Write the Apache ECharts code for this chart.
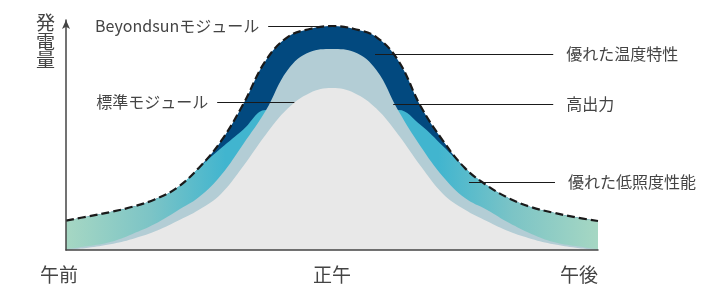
<!DOCTYPE html>
<html>
<head>
<meta charset="utf-8">
<script src="https://cdn.jsdelivr.net/npm/echarts@6/dist/echarts.min.js"></script>
<style>
html,body{margin:0;padding:0;background:#fff;}
#chart{width:709px;height:289px;}
</style>
</head>
<body>
<div id="chart"></div>
<script>
// ---- data ----
const hours = [6,6.5,7,7.5,8,8.5,9,9.5,10,10.5,11,11.5,12,12.5,13,13.5,14,14.5,15,15.5,16,16.5,17,17.5,18];
const beyondsunOutput = [12.8,14.6,16.5,18.8,22.0,27.0,35.8,47.4,63.5,82.2,92.6,96.1,97.4,96.1,92.6,82.2,62.5,47.6,35.6,28.0,22.4,18.6,16.2,14.2,12.6];
const lowLightEdge = [12.8,14.6,16.5,18.8,22.0,27.0,35.8,44.3,52.4,60.9,55,52,51,52,55,60.9,54.3,45.2,35.6,28.0,22.4,18.6,16.2,14.2,12.6];
const highOutputEdge = [0.3,1.7,3.5,7.0,11.3,17.0,23.0,32.6,46.1,60.4,78.3,86.1,87.4,86.1,78.3,60.4,45.0,32.0,22.6,17.4,11.7,7.0,3.5,1.7,0.3];
const standardOutput = [0,1.0,2.5,4.8,8.0,12.5,17.5,24.5,36.5,50.0,61.5,68.3,70.4,68.3,61.5,50.0,36.5,24.5,17.5,12.5,8.0,4.8,2.5,1.0,0];
const xTickValues = [6,12,18];
const xTickLabels = ['午前','正午','午後'];
const yAxisTitle = '発\n電\n量';
const annoLabels = ['Beyondsunモジュール','優れた温度特性','高出力','優れた低照度性能','標準モジュール'];
const annoFromX = [11.80,12.97,13.38,15.09,11.32];
const annoToX = [10.56,16.99,16.99,17.03,9.41];
const annoY = [97.4,85.2,63.5,29.6,64.3];

const FONT = 'Noto Sans CJK JP';
const pair = (a) => hours.map((h, i) => [h, a[i]]);

function areaSeries(data, color, z) {
  return {
    type: 'line', data: pair(data), smooth: 0.4, symbol: 'none', silent: true,
    lineStyle: { width: 0 }, areaStyle: { color: color, opacity: 1 }, z: z
  };
}

const tealGradient = new echarts.graphic.LinearGradient(0, 0, 1, 0, [
  { offset: 0, color: '#a6d7c3' },
  { offset: 0.16, color: '#7cc4c6' },
  { offset: 0.3, color: '#41b5cf' },
  { offset: 0.7, color: '#41b5cf' },
  { offset: 0.84, color: '#7cc4c6' },
  { offset: 1, color: '#a6d7c3' }
]);

const markData = annoLabels.map((name, i) => {
  const leftward = annoToX[i] < annoFromX[i];
  return [
    { name: name, coord: [annoFromX[i], annoY[i]], label: { distance: leftward ? 9 : 13 } },
    { coord: [annoToX[i], annoY[i]] }
  ];
});

const chart = echarts.init(document.getElementById('chart'), null, { renderer: 'canvas' });
chart.setOption({
  animation: false,
  backgroundColor: '#ffffff',
  grid: { left: 66, right: 111, top: 20, bottom: 39 },
  xAxis: {
    type: 'value', min: 6, max: 18, interval: 6, z: 10,
    axisLine: { show: true, lineStyle: { color: '#444', width: 1.5 } },
    axisTick: { show: false }, splitLine: { show: false },
    axisLabel: {
      margin: 15, color: '#444', fontSize: 19, fontFamily: FONT,
      alignMaxLabel: 'right',
      formatter: (v) => {
        const i = xTickValues.indexOf(v);
        if (i < 0) return '';
        return i === 0 ? '{l|' + xTickLabels[i] + '}' : xTickLabels[i];
      },
      rich: { l: { fontSize: 19, fontFamily: FONT, color: '#444', padding: [0, 14, 0, 0] } }
    }
  },
  yAxis: {
    type: 'value', min: 0, max: 100, z: 10,
    name: yAxisTitle, nameLocation: 'end', nameGap: 6,
    nameTextStyle: { color: '#444', fontSize: 19, lineHeight: 18.5, fontFamily: FONT,
      align: 'right', verticalAlign: 'top', padding: [0, 11, 0, 0] },
    axisLine: { show: true, lineStyle: { color: '#444', width: 1.5 },
      symbol: ['none', 'arrow'], symbolSize: [6, 9] },
    axisTick: { show: false }, splitLine: { show: false }, axisLabel: { show: false }
  },
  series: [
    areaSeries(beyondsunOutput, '#02497f', 2),
    areaSeries(lowLightEdge, tealGradient, 3),
    areaSeries(highOutputEdge, '#b3cdd5', 4),
    areaSeries(standardOutput, '#e8e8e8', 5),
    {
      type: 'line', data: pair(beyondsunOutput), smooth: 0.4, symbol: 'none', silent: true, z: 6,
      lineStyle: { color: '#1a1a1a', width: 2.2, type: [8, 4] },
      markLine: {
        silent: true, symbol: ['none', 'none'], animation: false,
        lineStyle: { color: '#1a1a1a', width: 1, type: 'solid' },
        label: { show: true, position: 'end', formatter: '{b}', color: '#444', fontSize: 16, fontFamily: FONT },
        emphasis: { disabled: true },
        data: markData
      }
    }
  ]
});
</script>
</body>
</html>
